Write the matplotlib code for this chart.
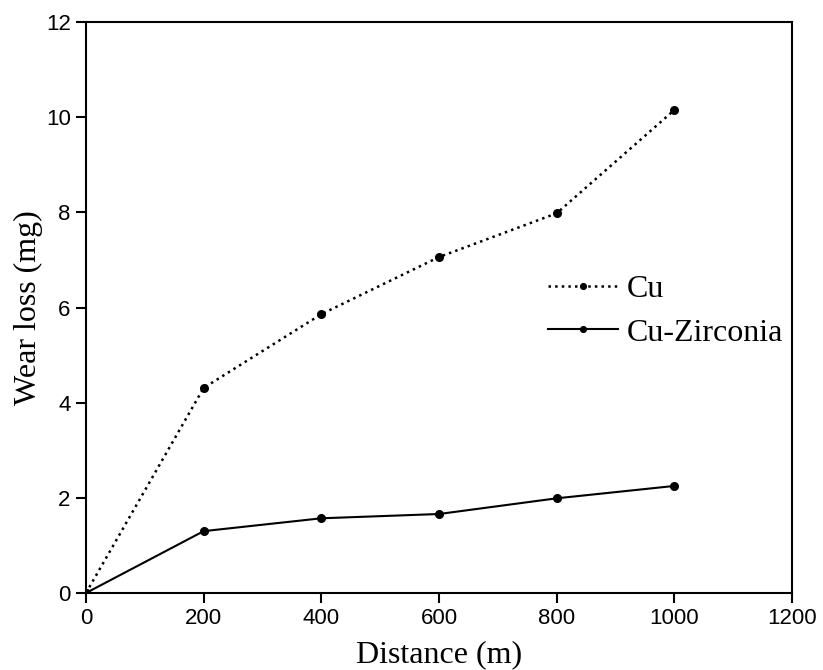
import matplotlib
matplotlib.use("Agg")
import matplotlib.pyplot as plt

distance = [0, 200, 400, 600, 800, 1000]
cu = [0, 4.31, 5.86, 7.06, 7.98, 10.15]
cu_zirconia = [0, 1.30, 1.57, 1.66, 1.99, 2.25]
xticks = [0, 200, 400, 600, 800, 1000, 1200]
yticks = [0, 2, 4, 6, 8, 10, 12]

fig = plt.figure(figsize=(8.23, 6.70), dpi=100)
ax = fig.add_axes([86/823, 1-593/670, (792-86)/823, (593-22)/670])

ax.plot(distance, cu, linestyle=':', color='black', linewidth=1.8,
        marker='o', markersize=5.5, label='Cu')
ax.plot(distance, cu_zirconia, linestyle='-', color='black', linewidth=1.5,
        marker='o', markersize=5.5, label='Cu-Zirconia')

ax.set_xlim(0, 1200)
ax.set_ylim(0, 12)
ax.set_xticks(xticks)
ax.set_yticks(yticks)
for lab in ax.get_xticklabels() + ax.get_yticklabels():
    lab.set_fontfamily('Liberation Sans')
    lab.set_fontsize(16)
ax.tick_params(direction='out', length=7, width=1.5, top=False, right=False, pad=4)
for s in ax.spines.values():
    s.set_linewidth(1.5)

ax.set_xlabel('Distance (m)', fontfamily='Liberation Serif', fontsize=23, labelpad=8)
ax.set_ylabel('Wear loss (mg)', fontfamily='Liberation Serif', fontsize=23, labelpad=2)

leg = ax.legend(loc='center left', bbox_to_anchor=(548/823, 1-311/670),
                bbox_transform=fig.transFigure, frameon=False, borderpad=0,
                borderaxespad=0,
                prop={'family': 'Liberation Serif', 'size': 23},
                handlelength=2.2, handletextpad=0.28, labelspacing=0.45, markerscale=0.75)

fig.savefig('out.png', dpi=100)
